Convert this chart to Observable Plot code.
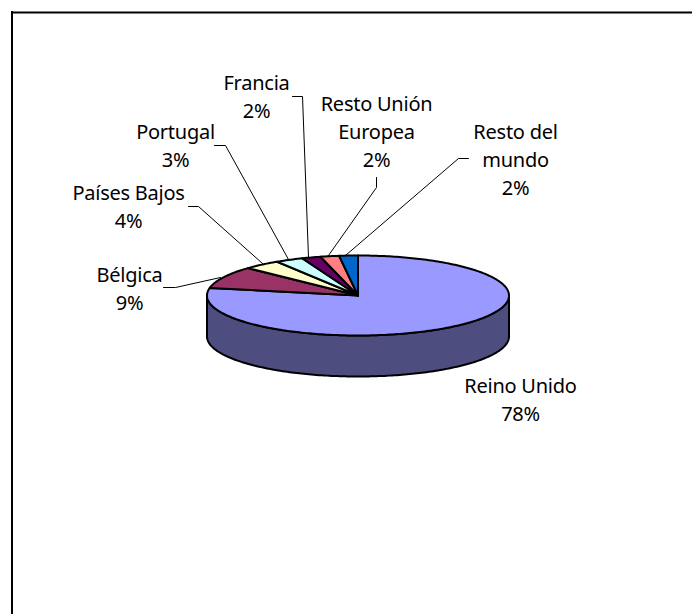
<!DOCTYPE html>
<html><head><meta charset="utf-8">
<script src="https://cdn.jsdelivr.net/npm/d3@7"></script>
<script src="https://cdn.jsdelivr.net/npm/@observablehq/plot@0.6"></script>
<style>html,body{margin:0;padding:0;background:#fff}svg{display:block}</style>
</head><body><div id="chart"></div>
<script>
const categories = ["Reino Unido","Bélgica","Países Bajos","Portugal","Francia","Resto Unión Europea","Resto del mundo"];
const labelTexts = ["Reino Unido","Bélgica","Países Bajos","Portugal","Francia","Resto Unión\nEuropea","Resto del\nmundo"];
const shares = [78,9,4,3,2,2,2];
const colors = ["#9999FF","#993366","#FFFFCC","#CCFFFF","#660066","#FF8080","#0066CC"];
const sideColor = "#4D4D80";

// layout in chart units (1 unit = 1 px)
const center = {x:357.5, y:295, rx:151, ry:40, depth:41};
const labelPos = [[520,398],[129,287],[128,205],[175,144],[256,95],[376,130],[515,158]];
const leaders = [
  null,
  [[163,287],[175,287],[220,277]],
  [[188,206],[198,206],[262,263]],
  [[214,145],[225,145],[288,259]],
  [[292,96],[302,96],[308,257]],
  [[376,177],[376,187],[328,255]],
  [[468,158],[458,158],[345,255]]
];

const ell = (a,dy=0)=>({x:center.x+center.rx*Math.sin(a), y:center.y+dy-center.ry*Math.cos(a)});
const arcs = d3.pie().sort(null).value(d=>d)(shares);
const step = Math.PI/180;
const slicePts = arcs.flatMap((arc,i)=>{
  const pts=[{x:center.x,y:center.y}];
  const n=Math.max(2,Math.ceil((arc.endAngle-arc.startAngle)/step));
  for(let k=0;k<=n;k++) pts.push(ell(arc.startAngle+(arc.endAngle-arc.startAngle)*k/n));
  pts.push({x:center.x,y:center.y});
  return pts.map(p=>({...p,name:categories[i],color:colors[i]}));
});
const sidePts=[];
for(let a=Math.PI/2;a<=3*Math.PI/2+1e-9;a+=step) sidePts.push(ell(a));
for(let a=3*Math.PI/2;a>=Math.PI/2-1e-9;a-=step) sidePts.push(ell(a,center.depth));
sidePts.push(sidePts[0]);

const labels = labelTexts.map((t,i)=>({text:`${t}\n${shares[i]}%`,x:labelPos[i][0],y:labelPos[i][1]}));
const leaderPts = leaders.flatMap((l,i)=>l?l.map(p=>({x:p[0],y:p[1],name:categories[i]})):[]);

const font = "'Noto Sans', sans-serif";
const chart = Plot.plot({
  width:692,height:614,margin:0,
  style:{background:"#fff",fontFamily:font,letterSpacing:"-0.25px"},
  x:{domain:[0,692],range:[0,692],axis:null},
  y:{domain:[0,614],range:[0,614],axis:null},
  marks:[
    Plot.ruleX([11.5],{y1:11,y2:614,stroke:"#000",strokeWidth:2}),
    Plot.ruleY([12],{x1:11,x2:692,stroke:"#000",strokeWidth:2}),
    Plot.line(sidePts,{x:"x",y:"y",fill:sideColor,stroke:"#000",strokeWidth:2,curve:"linear"}),
    Plot.line(slicePts,{x:"x",y:"y",z:"name",fill:d=>d.color,stroke:"#000",strokeWidth:2,strokeLinejoin:"round",curve:"linear"}),
    Plot.line(leaderPts,{x:"x",y:"y",z:"name",stroke:"#000",strokeWidth:1,curve:"linear"}),
    Plot.text(labels,{x:"x",y:"y",text:"text",fontSize:20,lineHeight:1.4,fill:"#000",textAnchor:"middle",lineAnchor:"middle",fontFamily:font})
  ]
});
document.getElementById("chart").append(chart);
</script></body></html>
